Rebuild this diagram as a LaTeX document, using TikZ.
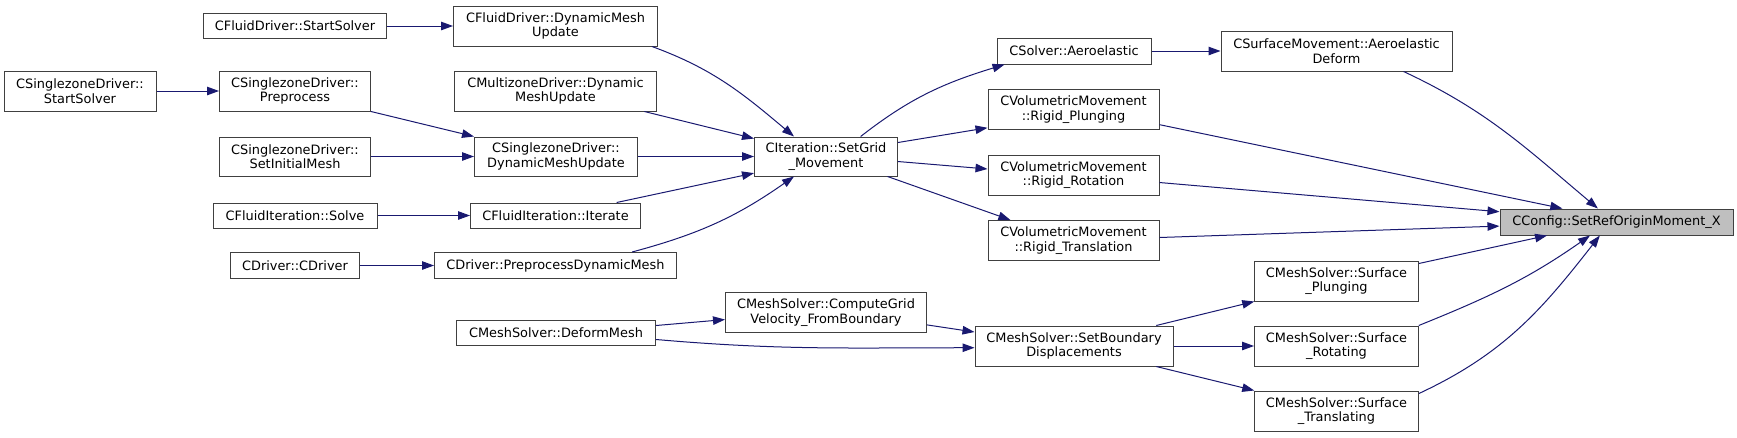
\documentclass[tikz,border=0pt]{standalone}
\usepackage{fontspec}
\setmainfont{DejaVu Sans}
\usepackage{tikz}
\usetikzlibrary{arrows.meta}
\definecolor{midnight}{RGB}{25,25,112}

\begin{document}
\begin{tikzpicture}[x=1pt, y=1pt,
    fn/.style={draw=black!75, line width=1pt, fill=white, inner sep=0pt, align=center,
        font=\fontsize{12.9}{14.5}\selectfont, minimum height=#1},
    fn/.default=40pt,
    call/.style={draw=midnight, line width=1pt, -{Triangle[length=12pt, width=8.5pt]}}]
    \useasboundingbox (0,0) rectangle (1737,-437);
    % NODI
    \node [fn=25pt, minimum width=183pt] (fdss) at (295,-26) {CFluidDriver::StartSolver};
    \node [fn, minimum width=204pt] (fddm) at (555.5,-26) {CFluidDriver::DynamicMesh\\Update};
    \node [fn, minimum width=152pt] (sdss) at (80,-91) {CSinglezoneDriver::\\StartSolver};
    \node [fn, minimum width=151pt] (sdpp) at (295,-91) {CSinglezoneDriver::\\Preprocess};
    \node [fn, minimum width=202pt] (mzdm) at (555.5,-91) {CMultizoneDriver::Dynamic\\MeshUpdate};
    \node [fn=39pt, minimum width=151pt] (sdim) at (295,-156.5) {CSinglezoneDriver::\\SetInitialMesh};
    \node [fn=39pt, minimum width=163pt] (sddm) at (556,-156.5) {CSinglezoneDriver::\\DynamicMeshUpdate};
    \node [fn=25pt, minimum width=164pt] (fis) at (295,-215.5) {CFluidIteration::Solve};
    \node [fn=25pt, minimum width=170pt] (fii) at (555.5,-215.5) {CFluidIteration::Iterate};
    \node [fn=26pt, minimum width=129pt] (dcd) at (295,-265.5) {CDriver::CDriver};
    \node [fn=26pt, minimum width=242pt] (dpdm) at (555.5,-265.5) {CDriver::PreprocessDynamicMesh};
    \node [fn=25pt, minimum width=199pt] (msdm) at (556,-332.5) {CMeshSolver::DeformMesh};
    \node [fn, minimum width=201pt] (mscg) at (826,-312.5) {CMeshSolver::ComputeGrid\\Velocity\_FromBoundary};
    \node [fn=39pt, minimum width=143pt] (itgm) at (826,-156.5) {CIteration::SetGrid\\\_Movement};
    \node [fn, minimum width=198pt] (msbd) at (1074,-346) {CMeshSolver::SetBoundary\\Displacements};
    \node [fn=26pt, minimum width=154pt] (sae) at (1074,-51) {CSolver::Aeroelastic};
    \node [fn, minimum width=171pt] (vmrp) at (1073.5,-109.5) {CVolumetricMovement\\::Rigid\_Plunging};
    \node [fn, minimum width=171pt] (vmrr) at (1073.5,-175) {CVolumetricMovement\\::Rigid\_Rotation};
    \node [fn, minimum width=171pt] (vmrt) at (1073.5,-240.5) {CVolumetricMovement\\::Rigid\_Translation};
    \node [fn, minimum width=231pt] (smad) at (1336.5,-51) {CSurfaceMovement::Aeroelastic\\Deform};
    \node [fn=26pt, minimum width=233pt, fill=black!25] (cfg) at (1616.5,-222) {CConfig::SetRefOriginMoment\_X};
    \node [fn, minimum width=164pt] (mssp) at (1336.5,-281) {CMeshSolver::Surface\\\_Plunging};
    \node [fn, minimum width=164pt] (mssr) at (1336.5,-346) {CMeshSolver::Surface\\\_Rotating};
    \node [fn, minimum width=164pt] (msst) at (1336.5,-411) {CMeshSolver::Surface\\\_Translating};

    % FRECCE
    \draw [call] (fdss) -- (fddm);
    \draw [call] (sdss) -- (sdpp);
    \draw [call] (sdpp.south east) -- (sddm.north west);
    \draw [call] (sdim) -- (sddm);
    \draw [call] (fis) -- (fii);
    \draw [call] (dcd) -- (dpdm);
    \draw [call] (fddm.-12) to[out=-20, in=140] (itgm.148);
    \draw [call] (mzdm.-13) -- (itgm.166);
    \draw [call] (sddm) -- (itgm);
    \draw [call] (fii.12) -- (itgm.193);
    \draw [call] (dpdm.10) to[out=15, in=-145] (itgm.212);
    \draw [call] (itgm.30) to[out=38, in=-163] (sae.191);
    \draw [call] (itgm.11) -- (vmrp.192);
    \draw [call] (itgm.-4) -- (vmrr.176);
    \draw [call] (itgm.-18) -- (vmrt.162);
    \draw [call] (sae) -- (smad);
    \draw [call] (smad.-17) to[out=-25, in=140] (cfg.144);
    \draw [call] (vmrp.-10) -- (cfg.166);
    \draw [call] (vmrr.-5) -- (cfg.175);
    \draw [call] (vmrt.2) -- (cfg.182);
    \draw [call] (mssp.12) -- (cfg.191);
    \draw [call] (mssr.14) to[out=22, in=-145] (cfg.207);
    \draw [call] (msst.12) to[out=25, in=-128] (cfg.219);
    \draw [call] (msdm.4) -- (mscg.184);
    \draw [call] (msdm.-4) to[out=-5, in=180] (msbd.181);
    \draw [call] (mscg.-7) -- (msbd.172);
    \draw [call] (msbd.14) -- (mssp.194);
    \draw [call] (msbd) -- (mssr);
    \draw [call] (msbd.-14) -- (msst.166);
\end{tikzpicture}
\end{document}
